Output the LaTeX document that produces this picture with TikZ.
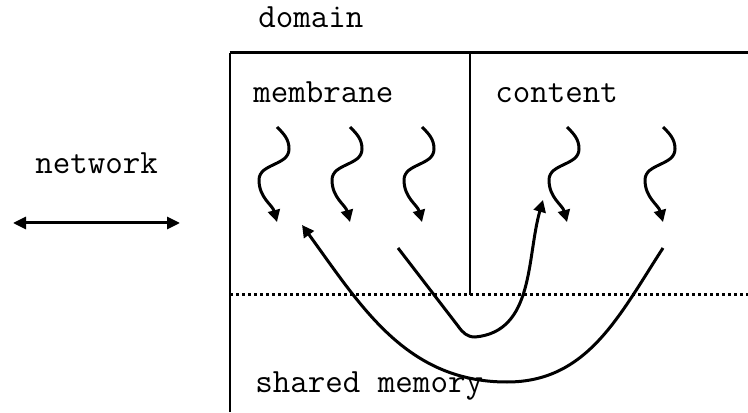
\documentclass[tikz,border=0pt]{standalone}
\usetikzlibrary{arrows.meta}

\begin{document}
\begin{tikzpicture}[x=0.5pt,y=0.5pt,
  lbl/.style={font=\ttfamily\fontsize{17}{20}\selectfont, inner sep=0pt, anchor=base west},
  flow/.style={line width=1.5pt, -{Triangle[length=6pt,width=6pt]}}]
\useasboundingbox (0,0) rectangle (748,412);
% domain box
\draw[line width=1pt] (230,0) -- (230,359);
\draw[line width=1.5pt] (229.5,359) -- (748,359);
\draw[line width=1.3pt] (470,359) -- (470,117);
\draw[line width=1.5pt, dash pattern=on 1.5pt off 1.5pt] (230,117) -- (748,117);
% labels
\node[lbl] (domain) at (258,384) {domain};
\node[lbl] (membrane) at (253,309) {membrane};
\node[lbl] (content) at (495,309) {content};
\node[lbl] (network) at (35,238) {network};
\node[lbl] (shared) at (255,20) {shared memory};
% network
\coordinate (netL) at (13,189);
\coordinate (netR) at (180,189);
\draw[line width=1.5pt, {Triangle[length=6.5pt,width=6pt]}-{Triangle[length=6.5pt,width=6pt]}] (netL) -- (netR);
% waves
\foreach \i/\x in {1/277,2/350,3/422,4/567,5/663} {
  \coordinate (w\i) at (\x,285);
  \coordinate (t\i) at (\x,190);
  \draw[flow] (w\i) to[out=-45,in=90] ++(12,-22) to[out=-90,in=90] ++(-30,-31)
    to[out=-90,in=105] (t\i);
}
% through shared memory
\coordinate (a1) at (663,164);
\coordinate (a2) at (507,30);
\coordinate (a3) at (302,187);
\draw[flow] (a1) to[out=-123,in=0] (a2) to[out=180,in=-54] (a3);
\coordinate (b1) at (398,164);
\coordinate (b2) at (458,86);
\coordinate (b3) at (475,75);
\coordinate (b4) at (543,212);
\draw[flow] (b1) -- (b2) to[out=-55,in=180] (b3) to[out=5,in=-106] (b4);
\end{tikzpicture}
\end{document}
